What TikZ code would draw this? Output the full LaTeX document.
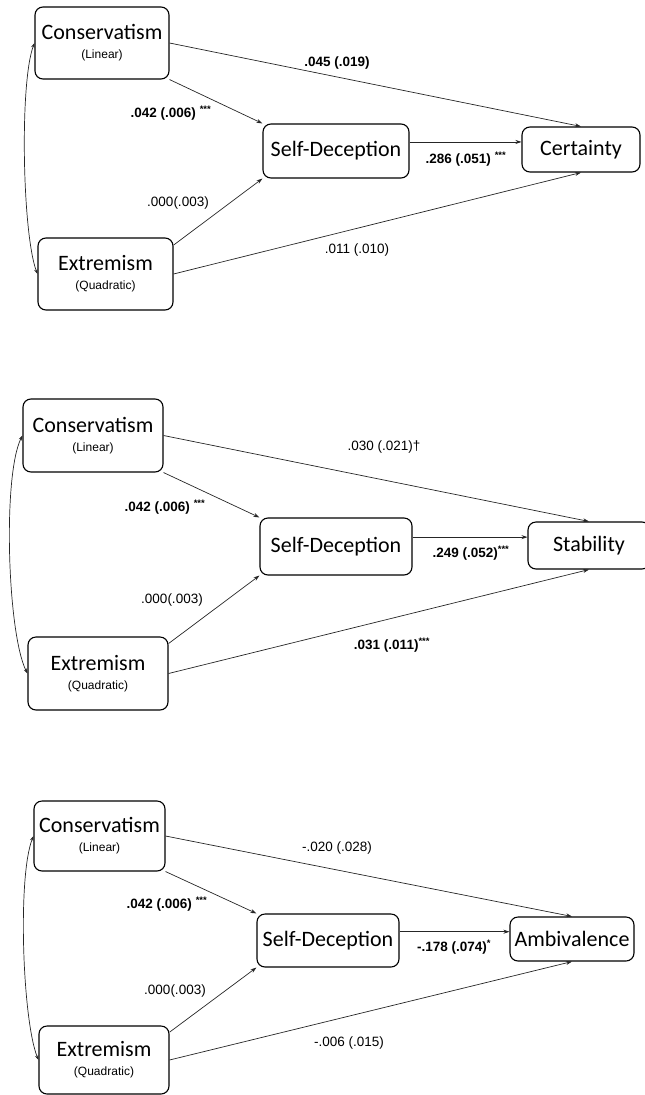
\documentclass[tikz,border=0pt]{standalone}
\usepackage{fontspec}
\setmainfont{Carlito}
\newfontfamily\lblfont{Liberation Sans}
\usetikzlibrary{arrows.meta}
\tikzset{
    var/.style={draw, rounded corners=8pt, line width=1.1pt, align=center, inner sep=0pt,
        font=\fontsize{22}{19}\selectfont},
    link/.style={draw=black!85, line width=0.7pt, -{Stealth[length=6pt,width=4pt]}},
    cov/.style={draw=black!85, line width=0.7pt, {Stealth[length=5pt,width=3.5pt]}-{Stealth[length=5pt,width=3.5pt]}},
    coef/.style={font=\lblfont\fontsize{13.5}{15}\selectfont, inner sep=1pt},
    sig/.style={font=\lblfont\bfseries\fontsize{13.5}{15}\selectfont, inner sep=1pt},
}
\newcommand\vartype[1]{{\lblfont\fontsize{12}{14}\selectfont #1}}

\begin{document}
\begin{tikzpicture}[x=1pt, y=-1pt]
    \useasboundingbox (0,0) rectangle (645,1095);

    % place nodes -- certainty
    \node[var, minimum width=134pt, minimum height=72pt] at (102,43)    (cons1) {Conservatism\\\vartype{(Linear)}};
    \node[var, minimum width=135pt, minimum height=72pt] at (105.5,274) (ext1)  {Extremism\\\vartype{(Quadratic)}};
    \node[var, minimum width=146pt, minimum height=54pt] at (336,151)   (sd1)   {Self-Deception};
    \node[var, minimum width=118pt, minimum height=45pt] at (581,149.5) (cert)  {Certainty};

    % draw edges -- certainty
    \draw[cov]  (cons1.west) .. controls +(-15,40) and +(-15,-40) .. (ext1.west);
    \draw[link] (cons1.south east) -- (sd1.north west);
    \draw[link] (cons1.east) -- (cert.north);
    \draw[link] (sd1.7) -- (sd1.7 -| cert.west);
    \draw[link] (ext1.23) -- (sd1.south west);
    \draw[link] (ext1.east) -- (cert.south);

    \node[sig]  at (337,63)  (c1a) {.045 (.019)};
    \node[sig]  at (171,113) (c1b) {.042 (.006) \textsuperscript{***}};
    \node[sig]  at (466,159) (c1c) {.286 (.051) \textsuperscript{***}};
    \node[coef] at (178,203) (c1d) {.000(.003)};
    \node[coef] at (357,250) (c1e) {.011 (.010)};

    % place nodes -- stability
    \node[var, minimum width=140pt, minimum height=73pt] at (93,435.5)  (cons2) {Conservatism\\\vartype{(Linear)}};
    \node[var, minimum width=140pt, minimum height=73pt] at (98,673.5)  (ext2)  {Extremism\\\vartype{(Quadratic)}};
    \node[var, minimum width=152pt, minimum height=57pt] at (336,546.5) (sd2)   {Self-Deception};
    \node[var, minimum width=122pt, minimum height=47pt] at (589,545.5) (stab)  {Stability};

    % draw edges -- stability
    \draw[cov]  (cons2.west) .. controls +(-20,40) and +(-20,-40) .. (ext2.west);
    \draw[link] (cons2.south east) -- (sd2.north west);
    \draw[link] (cons2.east) -- (stab.north);
    \draw[link] (sd2.7) -- (sd2.7 -| stab.west);
    \draw[link] (ext2.23) -- (sd2.south west);
    \draw[link] (ext2.east) -- (stab.south);

    \node[coef] at (384,447) (c2a) {.030 (.021)†};
    \node[sig]  at (165,507) (c2b) {.042 (.006) \textsuperscript{***}};
    \node[sig]  at (471,553) (c2c) {.249 (.052)\textsuperscript{***}};
    \node[coef] at (172,600) (c2d) {.000(.003)};
    \node[sig]  at (392,645) (c2e) {.031 (.011)\textsuperscript{***}};

    % place nodes -- ambivalence
    \node[var, minimum width=131pt, minimum height=70pt] at (99.5,836)  (cons3) {Conservatism\\\vartype{(Linear)}};
    \node[var, minimum width=130pt, minimum height=68pt] at (104,1060)  (ext3)  {Extremism\\\vartype{(Quadratic)}};
    \node[var, minimum width=142pt, minimum height=53pt] at (328,940.5) (sd3)   {Self-Deception};
    \node[var, minimum width=124pt, minimum height=44pt] at (572,939)   (amb)   {Ambivalence};

    % draw edges -- ambivalence
    \draw[cov]  (cons3.west) .. controls +(-16,40) and +(-16,-40) .. (ext3.west);
    \draw[link] (cons3.south east) -- (sd3.north west);
    \draw[link] (cons3.east) -- (amb.north);
    \draw[link] (sd3.7) -- (sd3.7 -| amb.west);
    \draw[link] (ext3.23) -- (sd3.south west);
    \draw[link] (ext3.east) -- (amb.south);

    \node[coef] at (337,848)  (c3a) {-.020 (.028)};
    \node[sig]  at (167,904)  (c3b) {.042 (.006) \textsuperscript{***}};
    \node[sig]  at (454,947)  (c3c) {-.178 (.074)\textsuperscript{*}};
    \node[coef] at (175,991)  (c3d) {.000(.003)};
    \node[coef] at (349,1043) (c3e) {-.006 (.015)};
\end{tikzpicture}
\end{document}
